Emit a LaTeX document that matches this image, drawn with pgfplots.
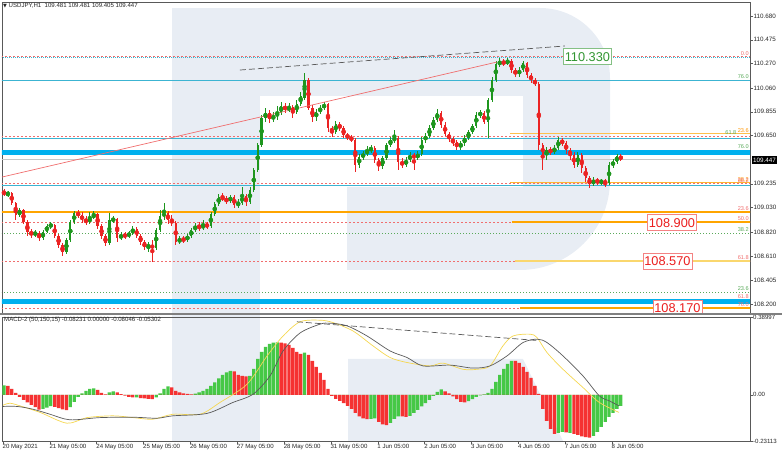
\documentclass[border=0pt]{standalone}
\usepackage{fontspec}
\setmainfont{Liberation Sans}
\newfontfamily\dejavu{DejaVu Sans}
\usepackage{pgfplots}
\usepackage{pgfplotstable}
\pgfplotsset{compat=1.18}
\definecolor{wm}{RGB}{232,237,244}
\definecolor{rdc}{RGB}{240,110,110}
\definecolor{gdc}{RGB}{90,170,90}
\definecolor{cyc}{RGB}{60,180,210}
\definecolor{bandc}{RGB}{0,176,238}
\definecolor{orc}{RGB}{255,165,0}
\definecolor{ylc}{RGB}{250,215,110}
\definecolor{upc}{RGB}{30,150,30}
\definecolor{dnc}{RGB}{235,35,35}
\definecolor{hgc}{RGB}{70,200,70}
\definecolor{hrc}{RGB}{245,50,50}
\definecolor{mgray}{RGB}{90,90,90}
\definecolor{myel}{RGB}{245,215,80}
\definecolor{boxg}{RGB}{50,150,50}
\definecolor{boxr}{RGB}{235,30,30}
\tikzset{
 rdash/.style={draw=rdc, line width=0.6bp, dash pattern=on 2bp off 2bp},
 gdot/.style={draw=gdc, line width=0.6bp, dash pattern=on 1bp off 2bp},
 cyl/.style={draw=cyc, line width=0.7bp},
 band/.style={draw=bandc, line width=5bp},
}
\pgfplotstableread{
t o h l c
0.5 109.164 109.190 109.130 109.147
2.5 109.147 109.173 109.121 109.156
4.5 109.156 109.164 109.052 109.070
6.5 109.070 109.078 108.923 108.966
8.5 108.966 109.027 108.949 109.009
10.5 109.009 109.018 108.889 108.906
12.5 108.906 108.923 108.785 108.820
14.5 108.820 108.846 108.768 108.803
16.5 108.803 108.837 108.777 108.811
18.5 108.811 108.828 108.742 108.768
20.5 108.768 108.837 108.751 108.820
22.5 108.820 108.889 108.811 108.872
24.5 108.872 108.906 108.846 108.880
26.5 108.880 108.889 108.768 108.785
28.5 108.785 108.803 108.682 108.708
30.5 108.708 108.725 108.613 108.648
32.5 108.648 108.768 108.630 108.751
34.5 108.751 108.923 108.734 108.906
36.5 108.906 109.001 108.889 108.983
38.5 108.983 109.009 108.940 108.966
40.5 108.966 108.992 108.897 108.923
42.5 108.923 108.958 108.880 108.906
44.5 108.906 108.992 108.889 108.940
46.5 108.940 109.001 108.932 108.975
48.5 108.975 108.983 108.846 108.872
50.5 108.872 108.889 108.760 108.785
52.5 108.785 108.803 108.699 108.725
54.5 108.725 108.983 108.708 108.923
56.5 108.923 108.958 108.897 108.932
58.5 108.932 108.940 108.734 108.768
60.5 108.768 108.820 108.751 108.794
62.5 108.794 108.820 108.760 108.785
64.5 108.785 108.828 108.768 108.811
66.5 108.811 108.872 108.794 108.846
68.5 108.846 108.863 108.768 108.785
70.5 108.785 108.803 108.708 108.734
72.5 108.734 108.751 108.665 108.691
74.5 108.691 108.734 108.648 108.708
76.5 108.708 108.751 108.561 108.682
78.5 108.682 108.854 108.665 108.837
80.5 108.837 109.009 108.820 108.958
82.5 108.958 109.070 108.923 108.983
84.5 108.983 109.001 108.889 108.923
86.5 108.923 108.966 108.872 108.897
88.5 108.897 108.915 108.708 108.734
90.5 108.734 108.785 108.716 108.760
92.5 108.760 108.785 108.725 108.751
94.5 108.751 108.803 108.734 108.785
96.5 108.785 108.854 108.768 108.837
98.5 108.837 108.897 108.820 108.872
100.5 108.872 108.906 108.828 108.854
102.5 108.854 108.923 108.837 108.880
104.5 108.880 108.906 108.846 108.872
106.5 108.872 108.992 108.854 108.975
108.5 108.975 109.078 108.958 109.061
110.5 109.061 109.147 109.044 109.121
112.5 109.121 109.156 109.087 109.104
114.5 109.104 109.130 109.061 109.087
116.5 109.087 109.139 109.070 109.121
118.5 109.121 109.139 109.027 109.052
120.5 109.052 109.104 109.027 109.070
122.5 109.070 109.207 109.052 109.130
124.5 109.130 109.147 109.044 109.078
126.5 109.078 109.207 109.061 109.182
128.5 109.182 109.371 109.164 109.354
130.5 109.354 109.586 109.337 109.569
132.5 109.569 109.828 109.552 109.802
134.5 109.802 109.888 109.767 109.845
136.5 109.845 109.871 109.759 109.793
138.5 109.793 109.853 109.767 109.819
140.5 109.819 109.905 109.784 109.845
142.5 109.845 109.940 109.828 109.905
144.5 109.905 109.931 109.845 109.871
146.5 109.871 109.931 109.853 109.896
148.5 109.896 109.914 109.802 109.853
150.5 109.853 109.957 109.836 109.922
152.5 109.922 110.026 109.905 109.991
154.5 109.974 110.189 109.957 110.129
156.5 110.129 110.146 109.871 109.888
158.5 109.888 109.914 109.767 109.810
160.5 109.810 109.879 109.776 109.853
162.5 109.853 109.914 109.836 109.888
164.5 109.888 109.940 109.871 109.922
166.5 109.922 109.931 109.681 109.716
168.5 109.716 109.733 109.638 109.681
170.5 109.681 109.776 109.664 109.750
172.5 109.750 109.767 109.690 109.716
174.5 109.716 109.733 109.629 109.655
176.5 109.655 109.673 109.612 109.638
178.5 109.638 109.655 109.595 109.612
180.5 109.612 109.629 109.337 109.397
182.5 109.397 109.492 109.371 109.466
184.5 109.466 109.517 109.440 109.492
186.5 109.492 109.561 109.474 109.526
188.5 109.526 109.569 109.500 109.543
190.5 109.543 109.561 109.414 109.440
192.5 109.440 109.457 109.345 109.388
194.5 109.388 109.474 109.362 109.457
196.5 109.457 109.586 109.440 109.569
198.5 109.569 109.638 109.552 109.612
200.5 109.612 109.698 109.586 109.629
202.5 109.629 109.647 109.354 109.423
204.5 109.423 109.457 109.371 109.397
206.5 109.397 109.466 109.380 109.440
208.5 109.440 109.509 109.423 109.483
210.5 109.483 109.500 109.354 109.457
212.5 109.457 109.517 109.440 109.492
214.5 109.492 109.638 109.474 109.612
216.5 109.612 109.673 109.586 109.647
218.5 109.647 109.741 109.629 109.716
220.5 109.716 109.810 109.698 109.784
222.5 109.784 109.879 109.767 109.845
224.5 109.845 109.862 109.716 109.741
226.5 109.741 109.767 109.647 109.664
228.5 109.664 109.681 109.595 109.621
230.5 109.621 109.638 109.561 109.595
232.5 109.595 109.612 109.526 109.552
234.5 109.552 109.604 109.526 109.586
236.5 109.586 109.655 109.561 109.629
238.5 109.629 109.698 109.612 109.681
240.5 109.681 109.750 109.664 109.733
242.5 109.733 109.853 109.716 109.828
244.5 109.828 109.871 109.802 109.845
246.5 109.845 109.862 109.750 109.767
248.5 109.767 109.974 109.629 109.957
250.5 109.957 110.155 109.940 110.129
252.5 110.129 110.293 110.112 110.267
254.5 110.267 110.318 110.241 110.284
256.5 110.284 110.310 110.250 110.275
258.5 110.275 110.318 110.258 110.293
260.5 110.293 110.310 110.189 110.215
262.5 110.215 110.232 110.155 110.181
264.5 110.181 110.241 110.155 110.215
266.5 110.215 110.293 110.198 110.275
268.5 110.275 110.284 110.146 110.172
270.5 110.172 110.189 110.103 110.129
272.5 110.129 110.146 110.077 110.095
274.5 110.095 110.112 109.526 109.569
276.5 109.569 109.586 109.354 109.483
278.5 109.483 109.552 109.440 109.526
280.5 109.526 109.552 109.483 109.509
282.5 109.509 109.569 109.492 109.543
284.5 109.543 109.638 109.526 109.612
286.5 109.612 109.629 109.561 109.586
288.5 109.586 109.604 109.492 109.526
290.5 109.526 109.543 109.440 109.483
292.5 109.483 109.509 109.371 109.397
294.5 109.397 109.509 109.380 109.483
296.5 109.483 109.500 109.328 109.371
298.5 109.371 109.388 109.250 109.285
300.5 109.285 109.302 109.199 109.233
302.5 109.233 109.293 109.216 109.268
304.5 109.268 109.285 109.225 109.250
306.5 109.250 109.276 109.225 109.259
308.5 109.259 109.276 109.207 109.242
310.5 109.242 109.423 109.225 109.397
312.5 109.397 109.449 109.371 109.423
314.5 109.423 109.492 109.405 109.474
316.5 109.474 109.492 109.431 109.447
}\candles
\pgfplotstableread{
t v g
0.5 0.048 1
2.5 0.045 0
4.5 0.030 0
6.5 0.010 0
8.5 -0.010 0
10.5 -0.025 0
12.5 -0.038 0
14.5 -0.050 0
16.5 -0.062 0
18.5 -0.074 0
20.5 -0.070 1
22.5 -0.064 1
24.5 -0.057 1
26.5 -0.060 0
28.5 -0.067 0
30.5 -0.073 0
32.5 -0.077 0
34.5 -0.062 1
36.5 -0.035 1
38.5 -0.010 1
40.5 0.008 1
42.5 0.020 1
44.5 0.030 1
46.5 0.033 1
48.5 0.025 0
50.5 0.010 0
52.5 0.002 0
54.5 0.012 1
56.5 0.018 1
58.5 0.012 0
60.5 0.004 0
62.5 -0.004 0
64.5 -0.010 0
66.5 -0.013 0
68.5 -0.012 1
70.5 -0.016 0
72.5 -0.018 0
74.5 -0.020 0
76.5 -0.022 0
78.5 -0.012 1
80.5 0.008 1
82.5 0.030 1
84.5 0.042 1
86.5 0.038 0
88.5 0.020 0
90.5 0.012 0
92.5 0.008 0
94.5 0.005 0
96.5 0.003 0
98.5 0.006 1
100.5 0.012 1
102.5 0.020 1
104.5 0.030 1
106.5 0.045 1
108.5 0.062 1
110.5 0.082 1
112.5 0.100 1
114.5 0.112 1
116.5 0.120 1
118.5 0.118 0
120.5 0.100 0
122.5 0.095 0
124.5 0.092 0
126.5 0.095 1
128.5 0.130 1
130.5 0.180 1
132.5 0.215 1
134.5 0.240 1
136.5 0.255 1
138.5 0.262 1
140.5 0.263 1
142.5 0.262 0
144.5 0.258 0
146.5 0.250 0
148.5 0.235 0
150.5 0.215 0
152.5 0.205 0
154.5 0.212 1
156.5 0.200 0
158.5 0.170 0
160.5 0.140 0
162.5 0.110 0
164.5 0.075 0
166.5 0.030 0
168.5 -0.005 0
170.5 -0.020 0
172.5 -0.030 0
174.5 -0.042 0
176.5 -0.055 0
178.5 -0.070 0
180.5 -0.090 0
182.5 -0.108 0
184.5 -0.118 0
186.5 -0.122 0
188.5 -0.120 1
190.5 -0.118 1
192.5 -0.135 0
194.5 -0.148 0
196.5 -0.152 0
198.5 -0.140 1
200.5 -0.120 1
202.5 -0.108 1
204.5 -0.108 0
206.5 -0.110 0
208.5 -0.105 1
210.5 -0.090 1
212.5 -0.075 1
214.5 -0.058 1
216.5 -0.042 1
218.5 -0.025 1
220.5 -0.005 1
222.5 0.015 1
224.5 0.028 1
226.5 0.018 0
228.5 0.008 0
230.5 -0.008 0
232.5 -0.022 0
234.5 -0.035 0
236.5 -0.038 0
238.5 -0.032 1
240.5 -0.022 1
242.5 -0.010 1
244.5 -0.002 1
246.5 0.002 1
248.5 0.010 1
250.5 0.030 1
252.5 0.065 1
254.5 0.100 1
256.5 0.130 1
258.5 0.155 1
260.5 0.170 1
262.5 0.170 0
264.5 0.160 0
266.5 0.140 0
268.5 0.115 0
270.5 0.085 0
272.5 0.045 0
274.5 0.005 0
276.5 -0.070 0
278.5 -0.130 0
280.5 -0.170 0
282.5 -0.195 0
284.5 -0.190 1
286.5 -0.185 1
288.5 -0.188 0
290.5 -0.190 1
292.5 -0.195 0
294.5 -0.200 0
296.5 -0.208 0
298.5 -0.212 0
300.5 -0.214 0
302.5 -0.205 1
304.5 -0.185 1
306.5 -0.160 1
308.5 -0.135 1
310.5 -0.110 1
312.5 -0.090 1
314.5 -0.070 1
316.5 -0.055 1
}\hist
\pgfplotstableread{
t v
0 -0.058
7.2 -0.058
15.4 -0.072
24.1 -0.097
34.3 -0.125
49.7 -0.114
66.6 -0.112
78.9 -0.117
87.1 -0.105
104.5 -0.093
117.8 -0.038
128.1 0.003
136.8 0.095
143.5 0.220
152.2 0.310
162.4 0.354
167.5 0.359
176.2 0.346
186.5 0.295
198.3 0.220
207.0 0.187
215.2 0.145
229.0 0.149
240.8 0.134
249.5 0.145
258.2 0.195
266.4 0.262
273.6 0.279
278.7 0.262
286.9 0.195
297.1 0.095
305.5 -0.005
310.6 -0.030
315.6 -0.055
}\macdgray
\pgfplotstableread{
t v
0 -0.052
3.6 -0.042
8.7 -0.055
19.0 -0.088
32.8 -0.142
43.0 -0.114
56.4 -0.105
66.6 -0.114
76.9 -0.122
87.1 -0.097
101.0 -0.097
111.2 -0.038
125.0 0.053
135.3 0.195
143.5 0.295
152.2 0.366
162.4 0.374
169.1 0.362
179.3 0.320
189.6 0.245
198.3 0.187
207.0 0.162
218.8 0.145
225.4 0.159
235.7 0.128
242.8 0.128
249.5 0.145
256.1 0.245
261.3 0.295
270.0 0.304
273.6 0.287
278.7 0.212
286.9 0.128
297.1 0.037
305.5 -0.038
315.6 -0.088
}\macdyel
\newcommand\smallfont{\fontsize{6.3}{7}\selectfont}
\newcommand\tinyfont{\fontsize{5.6}{6}\selectfont}
\begin{document}
\begin{tikzpicture}
\useasboundingbox (0,0) rectangle (782bp,456bp);
% watermark
\begin{scope}[x=1bp, y=-1bp, yshift=456bp]
 \fill[wm] (172,8) rectangle (260,441);
 \fill[wm] (260,8) -- (540,8) arc[start angle=-90, end angle=0, radius=70] -- (610,180) arc[start angle=0, end angle=90, radius=90] -- (347,270) -- (347,187) -- (523,187) -- (523,96) -- (260,96) -- cycle;
 \fill[wm] (348,359) -- (523,359) -- (563,441) -- (348,441) -- cycle;
\end{scope}
% main price panel
\begin{axis}[
 at={(2bp,143bp)}, anchor=south west, width=748bp, height=311bp, scale only axis,
 xmin=-0.5, xmax=382.7, ymin=108.122, ymax=110.801,
 axis line style={draw=black!65, line width=0.8bp},
 xtick=\empty,
 ytick={110.680,110.475,110.270,110.060,109.855,109.650,109.235,109.030,108.820,108.610,108.405,108.200},
 yticklabels={110.680,110.475,110.270,110.060,109.855,109.650,109.235,109.030,108.820,108.610,108.405,108.200},
 ytick pos=right, yticklabel pos=right, tick align=outside, major tick length=3bp,
 tick style={draw=black!65, line width=0.5bp},
 yticklabel style={font=\smallfont, text=black!85, anchor=west, inner sep=0.5bp},
]
% level lines
\addplot[rdash, forget plot] coordinates {(-1,110.330) (384,110.330)};
\addplot[draw=cyc, line width=0.5bp, dash pattern=on 1bp off 1bp, forget plot] coordinates {(-1,110.325) (384,110.325)};
\addplot[cyl, forget plot] coordinates {(-1,110.129) (384,110.129)};
\addplot[rdash, forget plot] coordinates {(-1,109.647) (384,109.647)};
\addplot[cyl, forget plot] coordinates {(-1,109.630) (384,109.630)};
\addplot[draw=orc!70, line width=1bp, forget plot] coordinates {(259.7,109.664) (384,109.664)};
\addplot[band, forget plot] coordinates {(-1,109.505) (384,109.505)};
\addplot[draw=black!22, line width=0.7bp, forget plot] coordinates {(-1,109.447) (384,109.447)};
\addplot[rdash, forget plot] coordinates {(-1,109.242) (384,109.242)};
\addplot[draw=orc!80, line width=1bp, forget plot] coordinates {(259.7,109.242) (384,109.242)};
\addplot[cyl, forget plot] coordinates {(-1,109.225) (384,109.225)};
\addplot[draw=orc, line width=2bp, forget plot] coordinates {(-1,108.992) (384,108.992)};
\addplot[rdash, forget plot] coordinates {(-1,108.906) (384,108.906)};
\addplot[draw=orc, line width=1.2bp, forget plot] coordinates {(260.8,108.906) (384,108.906)};
\addplot[gdot, forget plot] coordinates {(-1,108.811) (384,108.811)};
\addplot[rdash, forget plot] coordinates {(-1,108.570) (384,108.570)};
\addplot[draw=ylc, line width=2bp, forget plot] coordinates {(262.3,108.570) (384,108.570)};
\addplot[gdot, forget plot] coordinates {(-1,108.303) (384,108.303)};
\addplot[band, forget plot] coordinates {(-1,108.217) (384,108.217)};
\addplot[rdash, forget plot] coordinates {(-1,108.165) (384,108.165)};
\addplot[draw=orc, line width=1.2bp, forget plot] coordinates {(264.9,108.165) (384,108.165)};
% candles: wicks and bodies
\addplot[color=upc, only marks, mark=none, forget plot, restrict y to domain=100:120,
  error bars/.cd, y dir=both, y explicit, error mark=none,
  error bar style={color=upc, line width=0.7bp}]
  table[x=t, y expr={ifthenelse(\thisrow{c}>=\thisrow{o},(\thisrow{h}+\thisrow{l})/2,0)}, y error expr={(\thisrow{h}-\thisrow{l})/2}] {\candles};
\addplot[color=dnc, only marks, mark=none, forget plot, restrict y to domain=100:120,
  error bars/.cd, y dir=both, y explicit, error mark=none,
  error bar style={color=dnc, line width=0.7bp}]
  table[x=t, y expr={ifthenelse(\thisrow{c}<\thisrow{o},(\thisrow{h}+\thisrow{l})/2,0)}, y error expr={(\thisrow{h}-\thisrow{l})/2}] {\candles};
\addplot[color=upc, only marks, mark=none, forget plot, restrict y to domain=100:120,
  error bars/.cd, y dir=both, y explicit, error mark=none,
  error bar style={color=upc, line width=2.3bp}]
  table[x=t, y expr={ifthenelse(\thisrow{c}>=\thisrow{o},(\thisrow{o}+\thisrow{c})/2,0)}, y error expr={max(abs(\thisrow{c}-\thisrow{o})/2,0.0015)}] {\candles};
\addplot[color=dnc, only marks, mark=none, forget plot, restrict y to domain=100:120,
  error bars/.cd, y dir=both, y explicit, error mark=none,
  error bar style={color=dnc, line width=2.3bp}]
  table[x=t, y expr={ifthenelse(\thisrow{c}<\thisrow{o},(\thisrow{o}+\thisrow{c})/2,0)}, y error expr={max(abs(\thisrow{c}-\thisrow{o})/2,0.0015)}] {\candles};
% trend lines
\addplot[draw=rdc, line width=0.7bp, forget plot] coordinates {(-0.5,109.293) (253.1,110.284)};
\addplot[draw=mgray, line width=0.7bp, dash pattern=on 6bp off 3bp, forget plot] coordinates {(121.4,110.215) (287.9,110.422)};
% level boxes
\node[draw=boxg!60, fill=white, text=boxg, font=\fontsize{12.8}{13}\selectfont, inner xsep=1.5bp, inner ysep=0bp, minimum height=16bp] at (axis cs:299.4,110.330) {110.330};
\node[draw=boxr!55, fill=white, text=boxr, font=\fontsize{12.8}{13}\selectfont, inner xsep=1.5bp, inner ysep=0bp, minimum height=16bp] at (axis cs:342.7,108.900) {108.900};
\node[draw=boxr!55, fill=white, text=boxr, font=\fontsize{12.8}{13}\selectfont, inner xsep=1.5bp, inner ysep=0bp, minimum height=16bp] at (axis cs:340.4,108.570) {108.570};
\node[draw=boxr!55, fill=white, text=boxr, font=\fontsize{12.8}{13}\selectfont, inner xsep=1.5bp, inner ysep=0bp, minimum height=16bp] at (axis cs:345.5,108.165) {108.170};
% fibo level captions
\begin{scope}[every node/.style={anchor=south east, font=\tinyfont, inner sep=0.4bp}]
\node[text=rdc] at (axis cs:382.3,110.335) {0.0};
\node[text=gdc] at (axis cs:382.3,110.135) {76.0};
\node[text=orc!90!red] at (axis cs:382.3,109.672) {23.6};
\node[text=gdc] at (axis cs:376.0,109.650) {61.8};
\node[text=gdc] at (axis cs:382.3,109.530) {76.0};
\node[text=orc!90!red] at (axis cs:382.3,109.250) {38.2};
\node[text=rdc] at (axis cs:382.3,109.243) {88.2};
\node[text=rdc] at (axis cs:382.3,109.003) {23.6};
\node[text=rdc] at (axis cs:382.3,108.912) {50.0};
\node[text=gdc] at (axis cs:382.3,108.817) {38.2};
\node[text=rdc] at (axis cs:382.3,108.576) {61.8};
\node[text=gdc] at (axis cs:382.3,108.309) {23.6};
\node[text=rdc] at (axis cs:382.3,108.243) {61.8};
\node[text=rdc] at (axis cs:382.3,108.170) {76.0};
\end{scope}
\end{axis}
% MACD panel
\begin{axis}[
 at={(2bp,15bp)}, anchor=south west, width=748bp, height=124bp, scale only axis,
 xmin=-0.5, xmax=382.7, ymin=-0.23113, ymax=0.38997,
 axis line style={draw=black!65, line width=0.8bp},
 xtick={0,24,...,312},
 xticklabels={20 May 2021,21 May 05:00,24 May 05:00,25 May 05:00,26 May 05:00,27 May 05:00,28 May 05:00,31 May 05:00,1 Jun 05:00,2 Jun 05:00,3 Jun 05:00,4 Jun 05:00,7 Jun 05:00,8 Jun 05:00},
 xtick pos=bottom, ytick pos=right, yticklabel pos=right,
 tick align=outside, major tick length=2.5bp,
 tick style={draw=black!65, line width=0.5bp},
 ytick={-0.23113,0,0.38997}, yticklabels={-0.23113,0.00,0.38997},
 ticklabel style={font=\fontsize{6.1}{7}\selectfont, text=black!85, inner sep=0.5bp},
 xticklabel style={anchor=north west, xshift=-1bp},
 yticklabel style={anchor=west},
]
\addplot[ybar, bar width=1.7, bar shift=0pt, fill=hgc, draw=none, forget plot]
  table[x=t, y expr={ifthenelse(\thisrow{g}==1,\thisrow{v},0)}] {\hist};
\addplot[ybar, bar width=1.7, bar shift=0pt, fill=hrc, draw=none, forget plot]
  table[x=t, y expr={ifthenelse(\thisrow{g}==0,\thisrow{v},0)}] {\hist};
\addplot[smooth, draw=myel, line width=0.7bp, forget plot] table[x=t, y=v] {\macdyel};
\addplot[smooth, draw=mgray, line width=0.7bp, forget plot] table[x=t, y=v] {\macdgray};
\addplot[draw=mgray, line width=0.7bp, dash pattern=on 6bp off 3bp, forget plot] coordinates {(150.6,0.366) (274.1,0.272)};
\end{axis}
% separator and labels
\draw[black!50, line width=2bp] (0,142bp) -- (782bp,142bp);
\node[anchor=west, font=\fontsize{6.1}{7}\selectfont, text=black!85, inner sep=0pt] at (3bp,450bp) {{\dejavu\fontsize{5}{6}\selectfont ▼}\ USDJPY,H1\ \ 109.481 109.481 109.405 109.447};
\node[anchor=west, font=\fontsize{6.1}{7}\selectfont, text=black!85, inner sep=0pt] at (4bp,136bp) {MACD-2 (50,150,15) -0.08231 0.00000 -0.08046 -0.05302};
\node[anchor=west, fill=black, text=white, font=\smallfont, inner xsep=1bp, inner ysep=1.5bp] at (752bp,296bp) {109.447};
\end{tikzpicture}
\end{document}
